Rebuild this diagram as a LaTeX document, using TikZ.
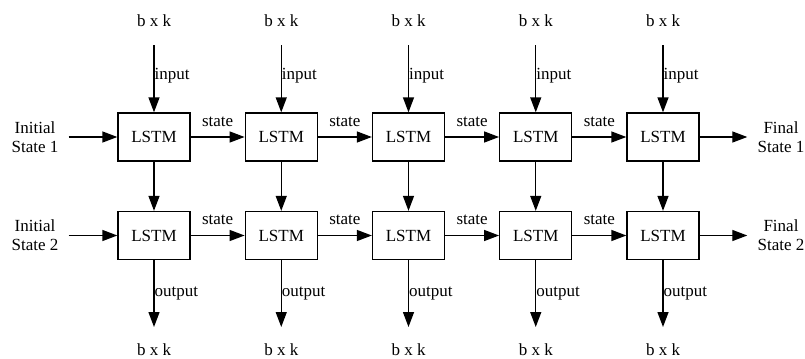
\documentclass[tikz,border=0pt]{standalone}
\usepackage{fontspec}
\setmainfont{Liberation Serif}
\usetikzlibrary{arrows.meta}

\tikzset{
    cell/.style={draw,line width=0.8pt,minimum width=43.2pt,minimum height=28.8pt,inner sep=0pt},
    flow/.style={line width=0.8pt,-{Triangle[length=9pt,width=6.6pt]}},
    side/.style={align=center,inner sep=6pt},
    tag/.style={inner sep=0pt},
}

\begin{document}
\begin{tikzpicture}[x=0.6pt,y=-0.6pt,font=\fontsize{10.2pt}{11.4pt}\selectfont]
    \pgfmathsetmacro{\firstcol}{154}
    \pgfmathsetmacro{\colstep}{127.25}
    \pgfmathsetmacro{\rowone}{137}
    \pgfmathsetmacro{\rowtwo}{235.5}
    \useasboundingbox (0,0) rectangle (805,358);
    % two stacked LSTM layers, five time steps
    \foreach \i in {1,...,5} {
        \pgfmathsetmacro{\cx}{\firstcol+(\i-1)*\colstep}
        \node[cell] (a\i) at (\cx,\rowone) {LSTM};
        \node[cell] (b\i) at (\cx,\rowtwo) {LSTM};
        \node (top\i) at (\cx,21) {b x k};
        \node (bot\i) at (\cx,350) {b x k};
        \coordinate (in\i) at (\cx,45);
        \coordinate (out\i) at (\cx,327);
        \draw[flow] (in\i) -- node[tag,anchor=west,pos=0.45] {input} (a\i);
        \draw[flow] (a\i) -- (b\i);
        \draw[flow] (b\i) -- node[tag,anchor=west] {output} (out\i);
    }
    \foreach \i/\j in {1/2,2/3,3/4,4/5} {
        \draw[flow] (a\i) -- node[tag,above=6pt] {state} (a\j);
        \draw[flow] (b\i) -- node[tag,above=6pt] {state} (b\j);
    }
    \node[side] (init1) at (35,\rowone) {Initial\\State 1};
    \node[side] (init2) at (35,\rowtwo) {Initial\\State 2};
    \node[side] (fin1) at (781,\rowone) {Final\\State 1};
    \node[side] (fin2) at (781,\rowtwo) {Final\\State 2};
    \draw[flow] (init1) -- (a1);
    \draw[flow] (init2) -- (b1);
    \draw[flow] (a5) -- (fin1);
    \draw[flow] (b5) -- (fin2);
\end{tikzpicture}
\end{document}
